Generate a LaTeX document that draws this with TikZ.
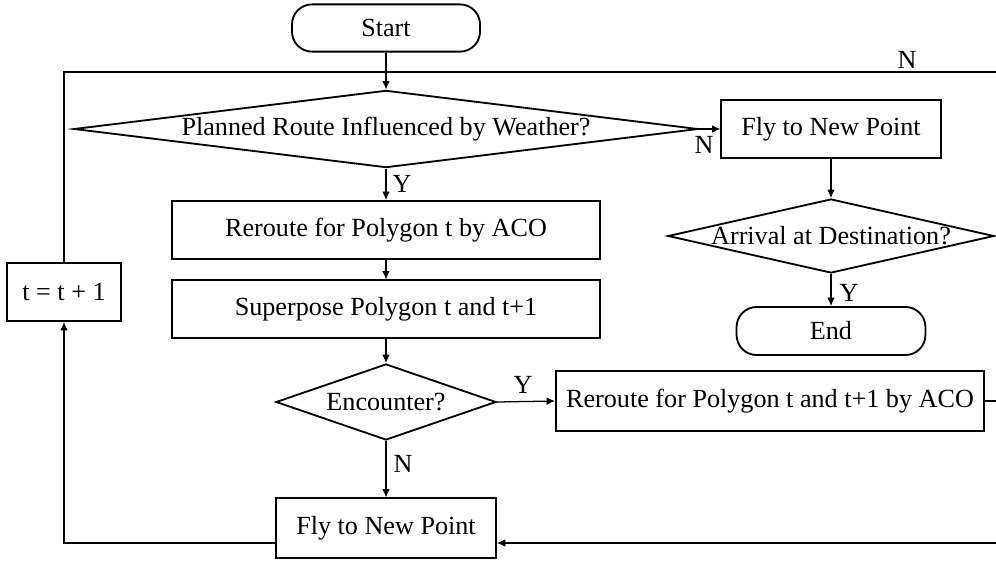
\documentclass[tikz,border=0pt]{standalone}
\usepackage{fontspec}
\setmainfont{Liberation Serif}
\usetikzlibrary{shapes.geometric,arrows.meta,calc}

\begin{document}
\begin{tikzpicture}[x=0.025cm,y=-0.025cm,
    font=\fontsize{18.6}{22}\selectfont,
    box/.style={draw,line width=1.3pt,rectangle,inner sep=0pt},
    terminal/.style={box,rounded corners=0.5cm},
    decision/.style={draw,line width=1.3pt,diamond,inner sep=0pt},
    flow/.style={line width=0.9pt,-{Latex[length=6pt,width=5.5pt]}},
    link/.style={line width=0.9pt}]
    %initialisation
    \useasboundingbox (0,0) rectangle (996,561);
    %definitions
    \node[terminal,minimum width=4.7cm,minimum height=1.18cm] (start) at (386,28) {Start};
    \node[decision,minimum width=15.6cm,minimum height=1.93cm,shape aspect=8.1] (weather) at (386,129)
        {\makebox[0pt]{Planned Route Influenced by Weather?}};
    \node[box,minimum width=5.48cm,minimum height=1.45cm] (flyA) at (831,129) {Fly to New Point};
    \node[decision,minimum width=8.15cm,minimum height=1.85cm,shape aspect=4.4] (arrival) at (831,236)
        {\makebox[0pt]{Arrival at Destination?}};
    \node[terminal,minimum width=4.72cm,minimum height=1.2cm] (end) at (831,331) {End};
    \node[box,minimum width=10.7cm,minimum height=1.45cm] (rerouteA) at (386,230) {Reroute for Polygon t by ACO};
    \node[box,minimum width=10.7cm,minimum height=1.43cm] (superpose) at (386,309) {Superpose Polygon t and t+1};
    \node[decision,minimum width=5.5cm,minimum height=1.9cm,shape aspect=2.9] (encounter) at (386,402)
        {\makebox[0pt]{Encounter?}};
    \node[box,minimum width=10.7cm,minimum height=1.48cm] (rerouteB) at (770,401) {Reroute for Polygon t and t+1 by ACO};
    \node[box,minimum width=5.5cm,minimum height=1.48cm] (flyB) at (386,528) {Fly to New Point};
    \node[box,minimum width=2.83cm,minimum height=1.45cm] (tstep) at (64,292) {t = t + 1};
    \coordinate (topR) at (996,72);
    \coordinate (outR) at (996,401);
    \coordinate (inR) at (996,543);
    \coordinate (botL) at (64,543);
    %drawing
    \draw[flow] (start) -- (weather);
    \draw[flow] (weather.east) -- (flyA.west);
    \draw[flow] (weather) -- (rerouteA);
    \draw[flow] (rerouteA) -- (superpose);
    \draw[flow] (superpose) -- (encounter);
    \draw[flow] (encounter.east) -- (rerouteB.west);
    \draw[flow] (encounter) -- (flyB);
    \draw[flow] (flyA) -- (arrival.north);
    \draw[flow] (arrival) -- (end);
    \draw[link] (rerouteB.east) -- (outR);
    \draw[flow] (inR) -- (flyB.east |- inR);
    \draw[flow] (flyB.west |- botL) -- (botL) -- (tstep.south);
    \draw[link] (tstep.north) -- (tstep.north |- topR) -- (topR);
    %label
    \node (lblN1) at (907,60) {N};
    \node (lblN2) at (704,145) {N};
    \node (lblY1) at (402,184) {Y};
    \node (lblY2) at (523,385) {Y};
    \node (lblN3) at (403,464) {N};
    \node (lblY3) at (849,293) {Y};
\end{tikzpicture}
\end{document}
